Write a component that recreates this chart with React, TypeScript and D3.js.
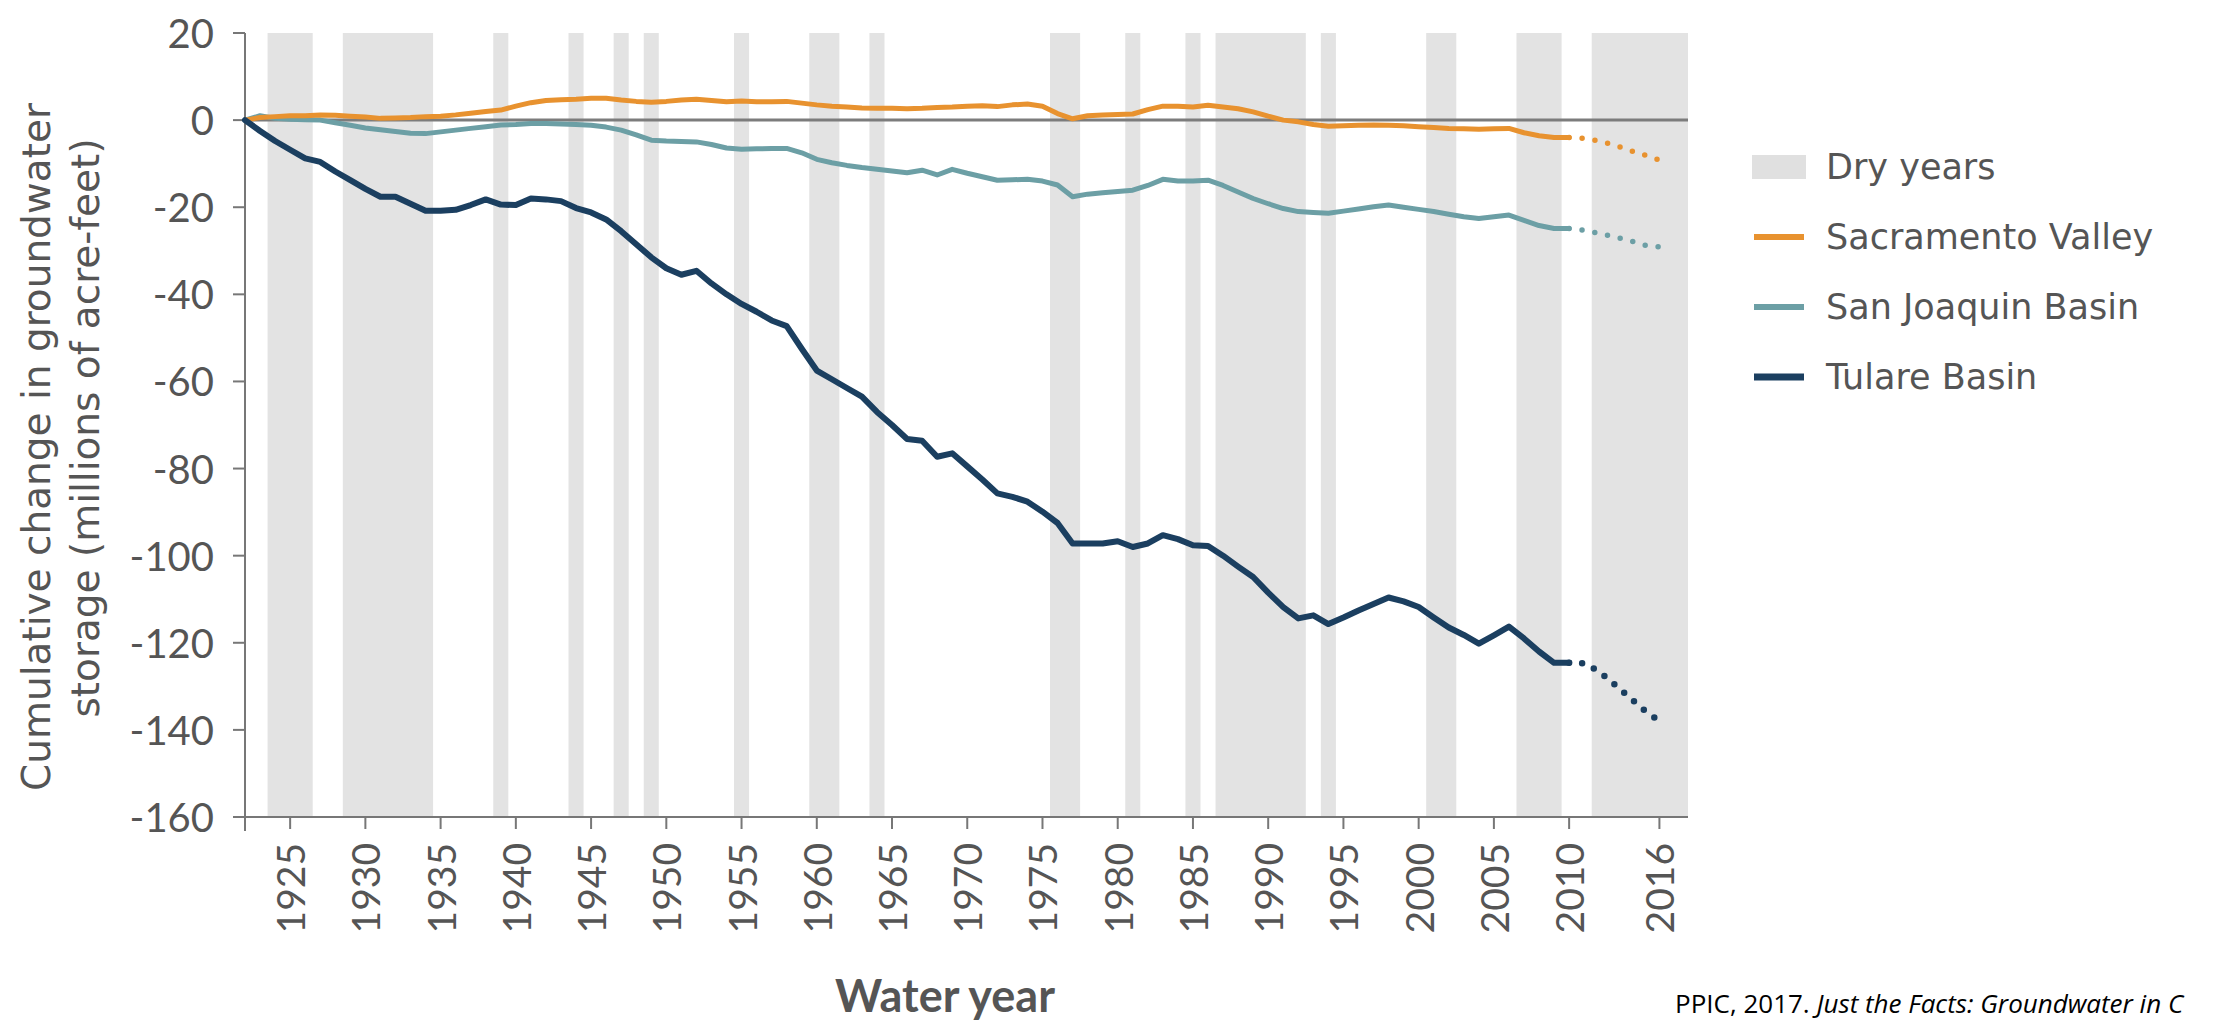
import React, { useEffect } from "react";
import * as d3 from "d3";

const years: number[] = d3.range(1922, 2011);
const projYears: number[] = [2010, 2011, 2012, 2013, 2014, 2015, 2016];

const tulare: number[] = [
  0, -2.5, -4.8, -6.8, -8.8, -9.6, -11.8, -13.8, -15.8, -17.6,
  -17.6, -19.2, -20.8, -20.8, -20.6, -19.5, -18.2, -19.4, -19.5, -18.0,
  -18.2, -18.6, -20.2, -21.2, -22.8, -25.5, -28.5, -31.5, -34.0, -35.5,
  -34.6, -37.5, -40.0, -42.2, -44.0, -46.0, -47.3, -52.5, -57.5, -59.5,
  -61.5, -63.5, -67.0, -70.0, -73.2, -73.6, -77.3, -76.5, -79.5, -82.5,
  -85.7, -86.5, -87.6, -89.9, -92.5, -97.2, -97.2, -97.2, -96.7, -98.0,
  -97.2, -95.3, -96.2, -97.6, -97.8, -100.0, -102.5, -104.9, -108.5, -111.8,
  -114.4, -113.7, -115.7, -114.2, -112.6, -111.1, -109.6, -110.5, -111.8, -114.2,
  -116.5, -118.2, -120.2, -118.3, -116.3, -119.0, -122.0, -124.6, -124.6,
];
const tulareProj: number[] = [-124.6, -124.7, -126.6, -129.5, -132.5, -135.5, -138.0];

const sacramento: number[] = [
  0, 0.6, 0.8, 1.0, 1.0, 1.2, 1.1, 0.9, 0.7, 0.4,
  0.5, 0.6, 0.8, 0.9, 1.2, 1.6, 2.0, 2.3, 3.2, 4.0,
  4.5, 4.7, 4.8, 5.0, 5.0, 4.6, 4.3, 4.1, 4.3, 4.6,
  4.8, 4.5, 4.2, 4.4, 4.2, 4.2, 4.3, 3.9, 3.5, 3.2,
  3.0, 2.8, 2.7, 2.7, 2.6, 2.7, 2.9, 3.0, 3.2, 3.3,
  3.1, 3.5, 3.7, 3.2, 1.5, 0.3, 1.0, 1.2, 1.3, 1.4,
  2.4, 3.2, 3.2, 3.0, 3.4, 3.0, 2.6, 1.9, 0.9, 0.0,
  -0.4, -1.0, -1.4, -1.3, -1.2, -1.1, -1.2, -1.3, -1.5, -1.7,
  -1.9, -2.0, -2.1, -2.0, -1.9, -2.9, -3.6, -4.0, -4.0,
];
const sacramentoProj: number[] = [-4.0, -4.2, -4.8, -5.7, -6.9, -8.0, -9.2];

const sanJoaquin: number[] = [
  0, 1.0, 0.4, 0.2, 0.1, 0.0, -0.6, -1.2, -1.8, -2.2,
  -2.6, -3.0, -3.1, -2.7, -2.3, -1.9, -1.5, -1.1, -1.0, -0.8,
  -0.8, -0.9, -1.0, -1.2, -1.6, -2.3, -3.4, -4.6, -4.8, -4.9,
  -5.0, -5.6, -6.4, -6.7, -6.6, -6.5, -6.5, -7.5, -9.0, -9.8,
  -10.4, -10.9, -11.3, -11.7, -12.1, -11.5, -12.6, -11.3, -12.2, -13.0,
  -13.8, -13.7, -13.6, -14.0, -14.9, -17.6, -17.0, -16.7, -16.4, -16.1,
  -15.0, -13.6, -14.0, -14.0, -13.8, -15.0, -16.5, -18.0, -19.2, -20.3,
  -21.0, -21.2, -21.4, -20.9, -20.4, -19.9, -19.5, -20.0, -20.5, -21.0,
  -21.6, -22.2, -22.6, -22.2, -21.8, -23.0, -24.2, -24.9, -24.9,
];
const sanJoaquinProj: number[] = [-24.9, -25.3, -26.0, -26.8, -27.6, -28.7, -29.1];

// dry years as [first, last] water year
const dryPeriods: [number, number][] = [
  [1924, 1926], [1929, 1934], [1939, 1939], [1944, 1944], [1947, 1947],
  [1949, 1949], [1955, 1955], [1960, 1961], [1964, 1964], [1976, 1977],
  [1981, 1981], [1985, 1985], [1987, 1992], [1994, 1994], [2001, 2002],
  [2007, 2009], [2012, 2018],
];

const xTicks: number[] = [1925, 1930, 1935, 1940, 1945, 1950, 1955, 1960, 1965, 1970, 1975, 1980, 1985, 1990, 1995, 2000, 2005, 2010, 2016];
const yTicks: number[] = [20, 0, -20, -40, -60, -80, -100, -120, -140, -160];

const seriesNames = ["Sacramento Valley", "San Joaquin Basin", "Tulare Basin"];
const seriesColors = ["#E8922F", "#6C9FA5", "#1B3F60"];

const W = 2213;
const H = 1022;
const FONT = "Lato, 'Open Sans', sans-serif";
const WIDE = "'DejaVu Sans', 'Open Sans', sans-serif";

export default function App() {
  useEffect(() => {
    document.body.style.margin = "0";
    document.body.style.overflow = "hidden";
  }, []);

  const x = d3.scaleLinear().domain([1922, 2017.9]).range([245, 1688]);
  const y = d3.scaleLinear().domain([-160, 20]).range([817, 33]);

  const line = d3
    .line<[number, number]>()
    .x((d) => x(d[0]))
    .y((d) => y(d[1]));

  const solid = [sacramento, sanJoaquin, tulare];
  const proj = [sacramentoProj, sanJoaquinProj, tulareProj];
  const drawOrder = [1, 0, 2];

  const [x0, x1] = x.domain();

  return (
    <svg width={W} height={H} style={{ position: "absolute", left: 0, top: 0, background: "#fff" }} fontFamily={FONT}>
      <rect x={0} y={0} width={W} height={H} fill="#fff" />
      {dryPeriods.map(([a, b], i) => {
        const s = Math.max(a - 0.5, x0);
        const e = Math.min(b + 0.5, x1);
        return <rect key={i} x={x(s)} y={y(20)} width={x(e) - x(s)} height={y(-160) - y(20)} fill="#E3E3E3" />;
      })}

      {/* zero line */}
      <line x1={x(x0)} x2={x(x1)} y1={y(0)} y2={y(0)} stroke="#7C7C7C" strokeWidth={3} />

      {/* y axis */}
      <line x1={x(x0)} x2={x(x0)} y1={y(20)} y2={y(-160)} stroke="#777" strokeWidth={2} />
      {yTicks.map((t) => (
        <g key={t}>
          <line x1={x(x0) - 12} x2={x(x0)} y1={y(t)} y2={y(t)} stroke="#777" strokeWidth={2} />
          <text x={214} y={y(t)} textAnchor="end" dominantBaseline="central" fontSize={40} fill="#555">
            {t}
          </text>
        </g>
      ))}

      {/* x axis */}
      <line x1={x(x0) - 12} x2={x(x1)} y1={y(-160)} y2={y(-160)} stroke="#777" strokeWidth={2} />
      <line x1={x(x0)} x2={x(x0)} y1={y(-160)} y2={y(-160) + 14} stroke="#777" strokeWidth={2} />
      {xTicks.map((t) => (
        <g key={t}>
          <line x1={x(t)} x2={x(t)} y1={y(-160)} y2={y(-160) + 12} stroke="#777" strokeWidth={2} />
          <text
            transform={`translate(${x(t)},${y(-160) + 26}) rotate(-90)`}
            textAnchor="end"
            dominantBaseline="central"
            fontSize={39}
            fill="#555"
          >
            {t}
          </text>
        </g>
      ))}

      {/* series */}
      {drawOrder.map((i) => (
        <g key={seriesNames[i]}>
          <path
            d={line(years.map((yr, k) => [yr, solid[i][k]]) as [number, number][]) || ""}
            fill="none"
            stroke={seriesColors[i]}
            strokeWidth={i === 2 ? 6 : 5}
            strokeLinejoin="round"
            strokeLinecap="round"
          />
          <path
            d={line(projYears.map((yr, k) => [yr, proj[i][k]]) as [number, number][]) || ""}
            fill="none"
            stroke={seriesColors[i]}
            strokeWidth={i === 2 ? 6.5 : 5.5}
            strokeLinecap="round"
            strokeDasharray="0 13"
            strokeDashoffset={-13}
          />
        </g>
      ))}

      {/* y axis title */}
      <text transform="translate(36,447) rotate(-90)" textAnchor="middle" dominantBaseline="central" fontSize={39} fill="#555" fontFamily={WIDE}>
        Cumulative change in groundwater
      </text>
      <text transform="translate(85,428) rotate(-90)" textAnchor="middle" dominantBaseline="central" fontSize={39} fill="#555" fontFamily={WIDE}>
        storage (millions of acre-feet)
      </text>

      {/* x axis title */}
      <text x={945} y={1012} textAnchor="middle" fontSize={45} fontWeight={700} fill="#555">
        Water year
      </text>

      {/* legend */}
      <g fontFamily={WIDE}>
        <rect x={1752} y={155} width={54} height={24} fill="#E0E0E0" />
        <text x={1826} y={167} dominantBaseline="central" fontSize={35} fill="#555">
          Dry years
        </text>
        {[0, 1, 2].map((i) => (
          <g key={i}>
            <line x1={1754} x2={1804} y1={237 + i * 70} y2={237 + i * 70} stroke={seriesColors[i]} strokeWidth={i === 2 ? 7 : 6} />
            <text x={1826} y={237 + i * 70} dominantBaseline="central" fontSize={35} fill="#555">
              {seriesNames[i]}
            </text>
          </g>
        ))}
      </g>

      {/* source */}
      <text x={1675} y={1013} fontSize={26} fill="#000" fontFamily="'Open Sans', Lato, sans-serif">
        PPIC, 2017.{" "}
        <tspan fontStyle="italic">Just the Facts: Groundwater in C</tspan>
      </text>
    </svg>
  );
}
